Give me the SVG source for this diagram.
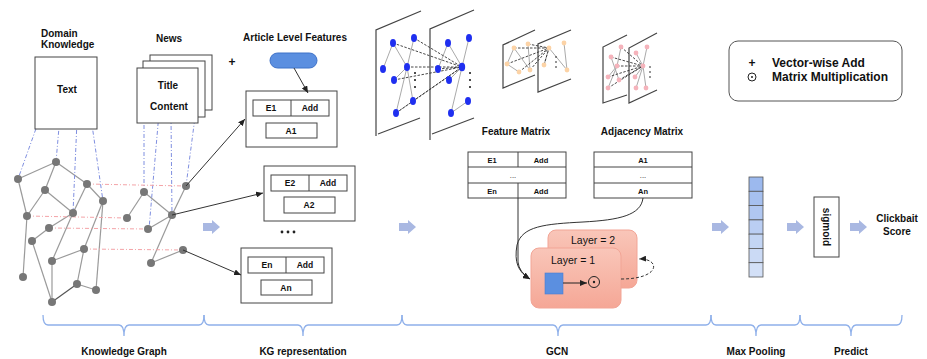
<svg xmlns="http://www.w3.org/2000/svg" width="927" height="359" viewBox="0 0 927 359">
<defs>
<style>
text{font-family:"Liberation Sans",Arial,sans-serif;fill:#111;}
.b{font-weight:bold;}
.t10{font-size:10px;}
.box{fill:#fff;stroke:#444;stroke-width:1;}
.kg{stroke:#9a9a9a;stroke-width:1.2;fill:none;}
.kn{fill:#777;}
.bdot{stroke:#7f8fe0;stroke-width:1;stroke-dasharray:4 2 1 2;fill:none;}
.pdot{stroke:#f4a4a8;stroke-width:1;stroke-dasharray:4 2 1 2;fill:none;}
.conn{stroke:#333;stroke-width:1;fill:none;}
.plane{stroke:#444;stroke-width:1.2;fill:none;}
.ge{stroke:#aaa;stroke-width:1;fill:none;}
.gd{stroke:#333;stroke-width:0.9;stroke-dasharray:2.5 1.5;fill:none;}
.bn{fill:#1f2ff0;}
.on{fill:#fcd3a6;}
.pn{fill:#f5b3bb;}
.brace{stroke:#8fb0ea;stroke-width:1.3;fill:none;}
.barr{fill:#a9b8e2;}
</style>
<marker id="ah" markerWidth="7" markerHeight="6" refX="7" refY="3" orient="auto" markerUnits="userSpaceOnUse">
<path d="M0,0 L7,3 L0,6 Z" fill="#222"/>
</marker>
<path id="blk" d="M0,-4 H9 V-7 L17,0 L9,7 V4 H0 Z"/>
<linearGradient id="lg" x1="0" y1="0" x2="0" y2="1">
<stop offset="0" stop-color="#f9c6b9"/>
<stop offset="1" stop-color="#f5a796"/>
</linearGradient>
</defs>

<!-- Knowledge graph shapes -->
<g id="knowledge-graph">
<g class="kg">
<line x1="56" y1="162" x2="18" y2="179"/>
<line x1="56" y1="162" x2="45" y2="190"/>
<line x1="56" y1="162" x2="87" y2="184"/>
<line x1="18" y1="179" x2="27" y2="216"/>
<line x1="45" y1="190" x2="27" y2="216"/>
<line x1="45" y1="190" x2="73" y2="213"/>
<line x1="87" y1="184" x2="73" y2="213"/>
<line x1="87" y1="184" x2="103" y2="201"/>
<line x1="27" y1="216" x2="23" y2="277"/>
<line x1="73" y1="213" x2="49" y2="228"/>
<line x1="49" y1="228" x2="32" y2="241"/>
<line x1="73" y1="213" x2="52" y2="261"/>
<line x1="52" y1="261" x2="84" y2="249"/>
<line x1="52" y1="261" x2="52" y2="302"/>
<line x1="32" y1="241" x2="52" y2="302"/>
<line x1="77" y1="284" x2="96" y2="290"/>
<line x1="77" y1="284" x2="84" y2="249"/>
<line x1="84" y1="249" x2="103" y2="201"/>
<line x1="96" y1="290" x2="103" y2="201"/>
<line x1="144" y1="192" x2="127" y2="218"/>
<line x1="144" y1="192" x2="172" y2="215"/>
<line x1="186" y1="186" x2="172" y2="215"/>
<line x1="172" y1="215" x2="148" y2="229"/>
<line x1="172" y1="215" x2="151" y2="263"/>
<line x1="151" y1="263" x2="183" y2="250"/>
</g>
<line x1="52" y1="302" x2="77" y2="284" stroke="#555" stroke-width="1.2"/>
<g class="bdot">
<line x1="48" y1="95" x2="18" y2="179"/>
<line x1="61" y1="104" x2="56" y2="162"/>
<line x1="77" y1="121" x2="73" y2="213"/>
<line x1="89" y1="104" x2="103" y2="201"/>
<line x1="144" y1="107" x2="144" y2="192"/>
<line x1="159" y1="113" x2="149" y2="229"/>
<line x1="171" y1="117" x2="172" y2="215"/>
<line x1="197" y1="102" x2="186" y2="186"/>
</g>
<g class="pdot">
<line x1="87" y1="184" x2="186" y2="186"/>
<line x1="27" y1="216" x2="127" y2="218"/>
<line x1="49" y1="228" x2="148" y2="229"/>
<line x1="84" y1="249" x2="183" y2="250"/>
</g>
<g class="kn">
<circle cx="56" cy="162" r="4"/><circle cx="18" cy="179" r="4"/><circle cx="45" cy="190" r="4"/>
<circle cx="87" cy="184" r="4"/><circle cx="103" cy="201" r="4"/><circle cx="27" cy="216" r="4"/>
<circle cx="73" cy="213" r="4"/><circle cx="49" cy="228" r="4"/><circle cx="32" cy="241" r="4"/>
<circle cx="84" cy="249" r="4"/><circle cx="52" cy="261" r="4"/><circle cx="23" cy="277" r="4"/>
<circle cx="77" cy="284" r="4"/><circle cx="96" cy="290" r="4"/><circle cx="52" cy="302" r="4"/>
<circle cx="144" cy="192" r="4"/><circle cx="186" cy="186" r="4"/><circle cx="127" cy="218" r="4"/>
<circle cx="172" cy="215" r="4"/><circle cx="148" cy="229" r="4"/><circle cx="183" cy="250" r="4"/>
<circle cx="151" cy="263" r="4"/>
</g>
</g>

<g id="domain-knowledge">
<text class="b t10" x="41" y="37">Domain</text>
<text class="b t10" x="41" y="48">Knowledge</text>
<rect class="box" x="35" y="57" width="62" height="72"/>
<text class="b t10" x="67" y="93" text-anchor="middle">Text</text>
</g>

<g id="news">
<text class="b t10" x="169" y="42" text-anchor="middle">News</text>
<rect class="box" x="150" y="55" width="62" height="55"/>
<rect class="box" x="143" y="61" width="62" height="56"/>
<rect class="box" x="137" y="68" width="61" height="55"/>
<text class="b t10" x="168" y="89" text-anchor="middle">Title</text>
<text class="b t10" x="169" y="110" text-anchor="middle">Content</text>
</g>

<g id="article-level-features">
<text class="b t10" x="295" y="41" text-anchor="middle">Article  Level Features</text>
<text class="b" x="232" y="66" font-size="12" text-anchor="middle">+</text>
<rect x="270" y="53" width="47" height="15" rx="7.5" fill="#5b8fe0" stroke="#3f72c8" stroke-width="1"/>
</g>

<g id="article-box-1">
<rect class="box" x="246" y="91" width="91" height="56"/>
<rect class="box" x="253" y="100" width="76" height="16"/>
<line x1="291" y1="100" x2="291" y2="116" stroke="#444"/>
<text class="b" font-size="8.5" x="271" y="111" text-anchor="middle">E1</text>
<text class="b" font-size="8.5" x="310" y="111" text-anchor="middle">Add</text>
<rect class="box" x="266" y="123" width="51" height="15"/>
<text class="b" font-size="8.5" x="291" y="134" text-anchor="middle">A1</text>
</g>

<g id="article-box-2">
<rect class="box" x="264" y="166" width="91" height="55"/>
<rect class="box" x="271" y="175" width="76" height="16"/>
<line x1="309" y1="175" x2="309" y2="191" stroke="#444"/>
<text class="b" font-size="8.5" x="290" y="186" text-anchor="middle">E2</text>
<text class="b" font-size="8.5" x="328" y="186" text-anchor="middle">Add</text>
<rect class="box" x="284" y="197" width="51" height="16"/>
<text class="b" font-size="8.5" x="309" y="208" text-anchor="middle">A2</text>
</g>

<g id="ellipsis-dots" fill="#222">
<circle cx="282" cy="232" r="1.4"/><circle cx="288" cy="232" r="1.4"/><circle cx="294" cy="232" r="1.4"/>
</g>

<g id="article-box-n">
<rect class="box" x="241" y="248" width="91" height="55"/>
<rect class="box" x="248" y="257" width="76" height="16"/>
<line x1="286" y1="257" x2="286" y2="273" stroke="#444"/>
<text class="b" font-size="8.5" x="267" y="268" text-anchor="middle">En</text>
<text class="b" font-size="8.5" x="305" y="268" text-anchor="middle">Add</text>
<rect class="box" x="261" y="280" width="51" height="15"/>
<text class="b" font-size="8.5" x="286" y="291" text-anchor="middle">An</text>
</g>

<!-- GCN graph illustrations -->
<g id="gcn-graph-blue">
<polyline class="plane" points="421,11 376,30 376,136"/>
<line class="plane" x1="378" y1="134" x2="420" y2="118"/>
<polyline class="plane" points="474,10 430,29 430,140"/>
<line class="plane" x1="432" y1="134" x2="474" y2="118"/>
<g class="ge">
<line x1="393" y1="43" x2="383" y2="69"/>
<line x1="393" y1="43" x2="407" y2="67"/>
<line x1="414" y1="38" x2="396" y2="113"/>
<line x1="407" y1="67" x2="394" y2="80"/>
<line x1="407" y1="67" x2="413" y2="101"/>
<line x1="413" y1="101" x2="396" y2="113"/>
<line x1="448" y1="43" x2="438" y2="69"/>
<line x1="448" y1="43" x2="462" y2="67"/>
<line x1="469" y1="38" x2="462" y2="67"/>
<line x1="462" y1="67" x2="449" y2="80"/>
<line x1="462" y1="67" x2="451" y2="113"/>
<line x1="451" y1="113" x2="468" y2="101"/>
</g>
<g class="gd">
<line x1="393" y1="43" x2="462" y2="67"/>
<line x1="414" y1="38" x2="462" y2="67"/>
<line x1="407" y1="67" x2="462" y2="67"/>
<line x1="394" y1="80" x2="462" y2="67"/>
<line x1="413" y1="101" x2="462" y2="67"/>
<line x1="396" y1="113" x2="462" y2="67"/>
<line x1="438" y1="69" x2="462" y2="67"/>
</g>
<g class="bn">
<ellipse cx="393" cy="43" rx="3" ry="4"/><ellipse cx="414" cy="38" rx="3" ry="4"/>
<ellipse cx="383" cy="69" rx="3" ry="4"/><ellipse cx="407" cy="67" rx="3" ry="4"/>
<ellipse cx="394" cy="80" rx="3" ry="4"/><ellipse cx="413" cy="101" rx="3" ry="4"/>
<ellipse cx="396" cy="113" rx="3" ry="4"/>
<ellipse cx="448" cy="43" rx="3" ry="4"/><ellipse cx="469" cy="38" rx="3" ry="4"/>
<ellipse cx="438" cy="69" rx="3" ry="4"/><ellipse cx="462" cy="67" rx="3.2" ry="4.2"/>
<ellipse cx="449" cy="80" rx="3" ry="4"/><ellipse cx="468" cy="101" rx="3" ry="4"/>
<ellipse cx="451" cy="113" rx="3" ry="4"/>
</g>
<g fill="#111">
<circle cx="415" cy="73" r="1"/><circle cx="415" cy="80" r="1"/><circle cx="415" cy="87" r="1"/>
<circle cx="470" cy="73" r="1"/><circle cx="470" cy="80" r="1"/><circle cx="470" cy="87" r="1"/>
</g>
</g>

<g id="gcn-graph-orange">
<polyline class="plane" points="535,30 503,45 503,88 535,75"/>
<polyline class="plane" points="571,30 538,44 538,92 571,79"/>
<g class="ge">
<line x1="514" y1="48" x2="507" y2="64"/>
<line x1="514" y1="48" x2="530" y2="70"/>
<line x1="507" y1="64" x2="519" y2="72"/>
<line x1="528" y1="44" x2="530" y2="70"/>
<line x1="549" y1="48" x2="544" y2="65"/>
<line x1="549" y1="48" x2="567" y2="70"/>
<line x1="564" y1="43" x2="567" y2="70"/>
</g>
<g class="gd">
<line x1="514" y1="48" x2="549" y2="48"/>
<line x1="528" y1="44" x2="549" y2="48"/>
<line x1="507" y1="64" x2="549" y2="48"/>
<line x1="519" y1="72" x2="549" y2="48"/>
<line x1="530" y1="70" x2="549" y2="48"/>
<line x1="544" y1="65" x2="549" y2="48"/>
</g>
<g class="on">
<circle cx="514" cy="48" r="2.4"/><circle cx="528" cy="44" r="2.4"/><circle cx="507" cy="64" r="2.4"/>
<circle cx="519" cy="72" r="2.4"/><circle cx="530" cy="70" r="2.4"/>
<circle cx="549" cy="48" r="2.4"/><circle cx="564" cy="43" r="2.4"/><circle cx="544" cy="65" r="2.4"/>
<circle cx="567" cy="70" r="2.4"/>
</g>
<g fill="#111"><circle cx="556" cy="57" r="0.8"/><circle cx="556" cy="62" r="0.8"/><circle cx="556" cy="67" r="0.8"/></g>
</g>

<g id="gcn-graph-pink">
<polyline class="plane" points="627,35 603,47 603,103 627,95"/>
<polyline class="plane" points="657,33 629,48 629,103 657,90"/>
<g class="ge">
<line x1="621" y1="47" x2="617" y2="66"/>
<line x1="611" y1="57" x2="619" y2="80"/>
<line x1="617" y1="66" x2="608" y2="77"/>
<line x1="617" y1="66" x2="608" y2="88"/>
<line x1="643" y1="66" x2="636" y2="53"/>
<line x1="643" y1="66" x2="647" y2="47"/>
<line x1="643" y1="66" x2="635" y2="77"/>
<line x1="643" y1="66" x2="646" y2="88"/>
<line x1="643" y1="66" x2="636" y2="88"/>
</g>
<g class="gd">
<line x1="621" y1="47" x2="643" y2="66"/>
<line x1="611" y1="57" x2="643" y2="66"/>
<line x1="617" y1="66" x2="643" y2="66"/>
<line x1="608" y1="77" x2="643" y2="66"/>
<line x1="619" y1="80" x2="643" y2="66"/>
<line x1="608" y1="88" x2="643" y2="66"/>
</g>
<g class="pn">
<circle cx="621" cy="47" r="2.4"/><circle cx="611" cy="57" r="2.4"/><circle cx="617" cy="66" r="2.4"/>
<circle cx="608" cy="77" r="2.4"/><circle cx="619" cy="80" r="2.4"/><circle cx="608" cy="88" r="2.4"/>
<circle cx="643" cy="66" r="2.4"/><circle cx="636" cy="53" r="2.4"/><circle cx="647" cy="47" r="2.4"/>
<circle cx="635" cy="77" r="2.4"/><circle cx="646" cy="88" r="2.4"/><circle cx="636" cy="88" r="2.4"/>
</g>
<g fill="#111"><circle cx="650" cy="67" r="0.8"/><circle cx="650" cy="72" r="0.8"/><circle cx="650" cy="77" r="0.8"/></g>
</g>

<g id="feature-matrix">
<text class="b t10" x="516" y="135" text-anchor="middle">Feature Matrix</text>
<rect class="box" x="468" y="152" width="98" height="46"/>
<line x1="468" y1="167" x2="566" y2="167" stroke="#444"/>
<line x1="468" y1="183" x2="566" y2="183" stroke="#444"/>
<line x1="518" y1="152" x2="518" y2="167" stroke="#444"/>
<line x1="518" y1="183" x2="518" y2="198" stroke="#444"/>
<text class="b" font-size="7.5" x="492" y="162.5" text-anchor="middle">E1</text>
<text class="b" font-size="7.5" x="541" y="162.5" text-anchor="middle">Add</text>
<text font-size="7.5" x="513" y="178" text-anchor="middle">...</text>
<text class="b" font-size="7.5" x="492" y="193.5" text-anchor="middle">En</text>
<text class="b" font-size="7.5" x="541" y="193.5" text-anchor="middle">Add</text>
</g>

<g id="adjacency-matrix">
<text class="b t10" x="642" y="135" text-anchor="middle">Adjacency Matrix</text>
<rect class="box" x="594" y="152" width="98" height="46"/>
<line x1="594" y1="167" x2="692" y2="167" stroke="#444"/>
<line x1="594" y1="183" x2="692" y2="183" stroke="#444"/>
<text class="b" font-size="7.5" x="643" y="162.5" text-anchor="middle">A1</text>
<text font-size="7.5" x="643" y="178" text-anchor="middle">...</text>
<text class="b" font-size="7.5" x="643" y="193.5" text-anchor="middle">An</text>
</g>

<g id="layer-2">
<rect x="548" y="230" width="89" height="58" rx="8" fill="url(#lg)" stroke="#f2a596" stroke-width="1"/>
<text font-size="10.5" x="593" y="244" text-anchor="middle">Layer = 2</text>
</g>

<g id="layer-1">
<rect x="531" y="248" width="90" height="60" rx="8" fill="url(#lg)" stroke="#f2a596" stroke-width="1"/>
<text font-size="10.5" x="573" y="264" text-anchor="middle">Layer = 1</text>
<rect x="545" y="273" width="18" height="21" fill="#5b8fe0" stroke="#4a7ed0" stroke-width="0.6"/>
<line x1="563" y1="283" x2="587" y2="283" stroke="#222" stroke-width="1" marker-end="url(#ah)"/>
<circle cx="594" cy="282" r="5.5" fill="none" stroke="#222" stroke-width="1"/>
<circle cx="594" cy="282" r="1.2" fill="#222"/>
</g>

<g id="legend">
<rect x="729" y="41" width="173" height="60" rx="9" fill="#fff" stroke="#555" stroke-width="1"/>
<text class="b" font-size="12" x="752" y="67" text-anchor="middle">+</text>
<circle cx="752" cy="77" r="4" fill="none" stroke="#222" stroke-width="1"/>
<circle cx="752" cy="77" r="1" fill="#222"/>
<text class="b" font-size="12" x="772" y="67">Vector-wise Add</text>
<text class="b" font-size="12" x="772" y="81">Matrix Multiplication</text>
</g>

<g id="max-pooling" stroke="#555" stroke-width="0.8">
<rect x="749" y="177" width="14" height="14.3" fill="#9cb9ee"/>
<rect x="749" y="191.3" width="14" height="14.3" fill="#a6c0ef"/>
<rect x="749" y="205.6" width="14" height="14.3" fill="#b0c7f1"/>
<rect x="749" y="219.9" width="14" height="14.3" fill="#bacef3"/>
<rect x="749" y="234.1" width="14" height="14.3" fill="#c3d5f4"/>
<rect x="749" y="248.4" width="14" height="14.3" fill="#cbdaf5"/>
<rect x="749" y="262.7" width="14" height="14.3" fill="#d3e0f7"/>
</g>

<g id="sigmoid">
<rect class="box" x="814" y="197" width="25" height="60"/>
<text class="b t10" transform="translate(823,227) rotate(90)" text-anchor="middle">sigmoid</text>
</g>

<g id="clickbait-score">
<text class="b t10" x="897" y="222" text-anchor="middle">Clickbait</text>
<text class="b t10" x="897" y="235" text-anchor="middle">Score</text>
</g>

<g id="flow-arrows" class="barr">
<use href="#blk" x="203" y="227"/>
<use href="#blk" x="399" y="227"/>
<use href="#blk" x="712" y="227"/>
<use href="#blk" x="787" y="227"/>
<use href="#blk" x="850" y="227"/>
</g>

<g id="connectors">
<line class="conn" x1="186" y1="186" x2="245" y2="119" marker-end="url(#ah)"/>
<line class="conn" x1="172" y1="215" x2="263" y2="193" marker-end="url(#ah)"/>
<line class="conn" x1="183" y1="250" x2="241" y2="275" marker-end="url(#ah)"/>
<line class="conn" x1="294" y1="68" x2="308" y2="93" marker-end="url(#ah)"/>
<path class="conn" d="M518,198 L518,262 Q519,272 530,279" marker-end="url(#ah)"/>
<path class="conn" d="M643,198 C641,215 620,220 583,222 C545,224 522,226 517,245 C514,262 518,272 530,279" marker-end="url(#ah)"/>
<path class="conn" d="M621,279 C662,279 660,258 639,259" stroke-dasharray="3 2" marker-end="url(#ah)"/>
</g>

<g id="braces">
<path class="brace" d="M43,315 Q43,325 48,325 L119,325 Q124,325 124,336 Q124,325 129,325 L199,325 Q204,325 204,315"/>
<path class="brace" d="M204,315 Q204,325 209,325 L298,325 Q303,325 303,336 Q303,325 308,325 L397,325 Q402,325 402,315"/>
<path class="brace" d="M402,315 Q402,325 407,325 L553,325 Q558,325 558,336 Q558,325 563,325 L706,325 Q711,325 711,315"/>
<path class="brace" d="M711,315 Q711,325 716,325 L751,325 Q756,325 756,336 Q756,325 761,325 L795,325 Q800,325 800,315"/>
<path class="brace" d="M800,315 Q800,325 805,325 L846,325 Q851,325 851,336 Q851,325 856,325 L897,325 Q902,325 902,315"/>
<text class="b t10" x="124" y="355" text-anchor="middle">Knowledge Graph</text>
<text class="b t10" x="303" y="355" text-anchor="middle">KG representation</text>
<text class="b t10" x="557" y="355" text-anchor="middle">GCN</text>
<text class="b t10" x="756" y="355" text-anchor="middle">Max Pooling</text>
<text class="b t10" x="851" y="355" text-anchor="middle">Predict</text>
</g>
</svg>
